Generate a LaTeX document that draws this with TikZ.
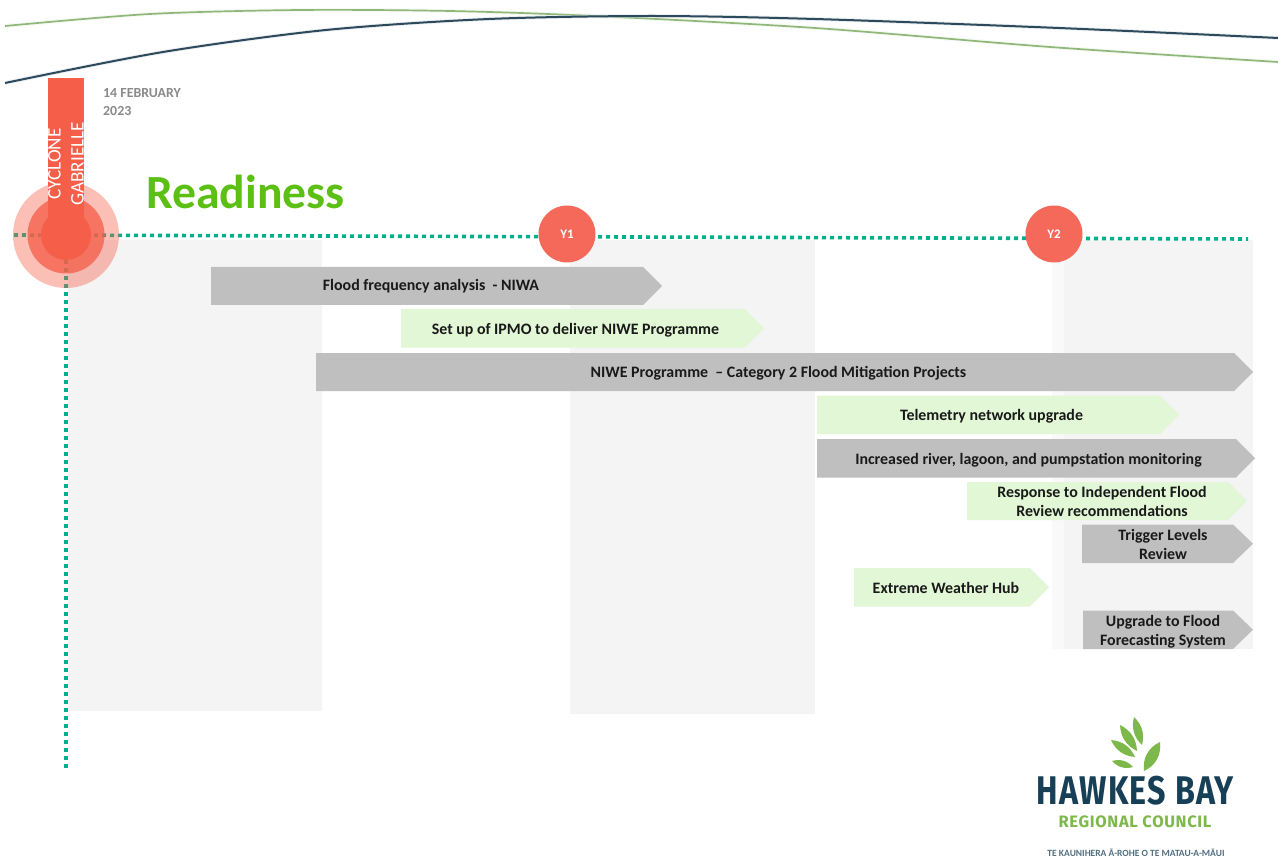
\documentclass[tikz,border=0pt]{standalone}
\usepackage{fontspec}
\setmainfont{Carlito}
\newfontfamily\logofont[LetterSpace=4]{Fira Sans}
\definecolor{arrowgrey}{HTML}{BFBFBF}
\definecolor{arrowgreen}{HTML}{E2F7D6}
\definecolor{band}{HTML}{F4F4F4}
\definecolor{coral}{HTML}{F55F4A}
\definecolor{yearcoral}{HTML}{F4695A}
\definecolor{dotgreen}{HTML}{00B08C}
\definecolor{titlegreen}{HTML}{5CBF14}
\definecolor{datagrey}{HTML}{8A8A8A}
\definecolor{linegreen}{HTML}{8FB878}
\definecolor{linedark}{HTML}{2C4A5C}
\definecolor{logonavy}{HTML}{173F56}
\definecolor{logogreen}{HTML}{7DB84A}
\tikzset{
 bartext/.style={font=\bfseries\fontsize{15.9}{19}\selectfont,text=black!90,align=center,inner sep=0pt},
 yearmark/.style={circle,fill=yearcoral,minimum size=57pt,inner sep=0pt,text=white,font=\bfseries\fontsize{13}{15}\selectfont},
 dotline/.style={draw=dotgreen,line width=3.6pt,dash pattern=on 4pt off 4pt},
 leaf/.style={fill=logogreen,draw=none}
}
% name, x1, shoulder, tip, y1, y2, text position, colour, text
\newcommand{\barrow}[9]{%
 \fill[#8] (#2,#5) -- (#3,#5) -- (#4,{(#5+#6)/2}) -- (#3,#6) -- (#2,#6) -- cycle;
 \node[bartext] (#1) at #7 {#9};
}
\newcommand{\logoleaf}[5]{%
 \fill[leaf] (#1,#2) to[bend left=#5] (#3,#4) to[bend left=#5] cycle;
}
\begin{document}
\begin{tikzpicture}[x=1pt,y=-1pt]
\useasboundingbox (0,0) rectangle (1278,861);
\fill[white] (0,0) rectangle (1278,861);
% header curves
\draw[white!85!linegreen,line width=4pt,opacity=.5] plot[smooth] coordinates {(5,26) (150,14) (300,10) (450,11) (595,16) (815,28) (1050,47) (1278,62)};
\draw[linegreen,line width=1.7pt] plot[smooth] coordinates {(5,26) (150,14) (300,10) (450,11) (595,16) (815,28) (1050,47) (1278,62)};
\draw[white!85!linedark,line width=4pt,opacity=.5] plot[smooth] coordinates {(5,83) (163,52) (326,30) (489,19) (652,16) (815,19) (1059,28) (1278,38)};
\draw[linedark,line width=2pt] plot[smooth] coordinates {(5,83) (163,52) (326,30) (489,19) (652,16) (815,19) (1059,28) (1278,38)};
% bands
\fill[band] (68,240) rectangle (322,711);
\fill[band] (570,240) rectangle (815,714);
\fill[band!50!white] (1052,240) rectangle (1064,649);
\fill[band] (1064,240) rectangle (1253,649);
% axes
\coordinate (hstart) at (14,235);
\coordinate (hend) at (1248,239);
\coordinate (vstart) at (66,260);
\coordinate (vend) at (66,768);
\draw[dotline] (hstart) -- (hend);
\draw[dotline] (vstart) -- (vend);
% cyclone marker
\fill[coral] (48,78) rectangle (84,235);
\node[circle,fill=coral,fill opacity=.4,minimum size=106pt,inner sep=0pt] (ringouter) at (66,235) {};
\node[circle,fill=coral,fill opacity=.78,minimum size=77pt,inner sep=0pt] (ringmiddle) at (66,235) {};
\node[circle,fill=coral,minimum size=50pt,inner sep=0pt] (ringinner) at (66,235) {};
\node[rotate=90,text=white,align=center,inner sep=0pt,font=\fontsize{19.2}{23}\selectfont] (cyclone) at (66,164) {CYCLONE\\GABRIELLE};
\node[anchor=north west,text=datagrey,align=left,inner sep=0pt,font=\bfseries\fontsize{13.9}{18}\selectfont] (date) at (103,88) {14 FEBRUARY\\2023};
\node[anchor=west,text=titlegreen,inner sep=0pt,font=\bfseries\fontsize{47.6}{52}\selectfont] (title) at (146,192) {Readiness};
\node[yearmark] (y1) at (567,234) {Y1};
\node[yearmark] (y2) at (1054,234) {Y2};
% bars
\barrow{flood}{211}{643}{662}{267}{305}{(431,286.5)}{arrowgrey}{Flood frequency analysis\ \ - NIWA}
\barrow{ipmo}{401}{745}{764}{309}{347.5}{(575.5,330)}{arrowgreen}{Set up of IPMO to deliver NIWE Programme}
\barrow{niwe}{316}{1234}{1253}{353}{391}{(778.5,373.5)}{arrowgrey}{NIWE Programme\ \ -- Category 2 Flood Mitigation Projects}
\barrow{telemetry}{817}{1160}{1179}{395.5}{434}{(991.5,416)}{arrowgreen}{Telemetry network upgrade}
\barrow{river}{817}{1236}{1255}{439}{477.5}{(1028.5,460)}{arrowgrey}{Increased river, lagoon, and pumpstation monitoring}
\barrow{response}{967}{1228}{1247}{482}{520}{(1102,501.8)}{arrowgreen}{Response to Independent Flood\\Review recommendations}
\barrow{trigger}{1082}{1233}{1253}{524.5}{563}{(1163,544.5)}{arrowgrey}{Trigger Levels\\Review}
\barrow{hub}{854}{1030}{1049}{568}{606.5}{(946,588)}{arrowgreen}{Extreme Weather Hub}
\begin{scope}
\clip (1070,600) rectangle (1270,649);
\barrow{upgrade}{1083}{1233}{1253}{610.5}{649}{(1163,631.5)}{arrowgrey}{Upgrade to Flood\\Forecasting System}
\end{scope}
% logo
\logoleaf{1134}{717}{1142}{745}{30}
\logoleaf{1120}{725}{1137}{751}{30}
\logoleaf{1111}{740}{1135}{757}{30}
\logoleaf{1112}{761}{1133}{767}{32}
\logoleaf{1160}{742}{1144}{771}{36}
\node[text=logonavy,inner sep=0pt,xscale=.806,font=\logofont\bfseries\fontsize{40}{44}\selectfont] (hawkes) at (1135,791) {HAWKES BAY};
\node[text=logogreen,inner sep=0pt,font=\logofont\bfseries\fontsize{16.5}{20}\selectfont] (regional) at (1135,822) {REGIONAL COUNCIL};
\node[text=logonavy!75,inner sep=0pt,font=\bfseries\fontsize{9.5}{11}\selectfont] (maori) at (1136,853) {TE KAUNIHERA Ā-ROHE O TE MATAU-A-MĀUI};
\end{tikzpicture}
\end{document}
